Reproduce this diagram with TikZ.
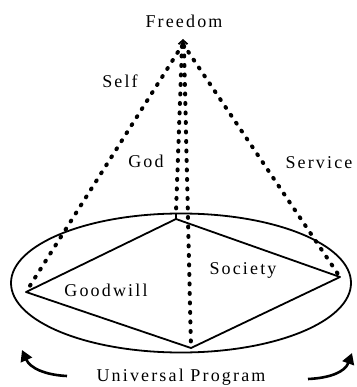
\documentclass[tikz,border=0pt]{standalone}
\usepackage{fontspec}
\setmainfont{Liberation Serif}[LetterSpace=12]
\usetikzlibrary{arrows.meta,shapes.geometric}
\tikzset{
  lbl/.style={font=\fontsize{18}{20}\selectfont, inner sep=0pt},
  dots/.style={line width=4pt, line cap=round, dash pattern=on 1pt off 8.5pt},
  solid line/.style={line width=1.8pt},
  curved arrow/.style={line width=2.6pt, -{Triangle[length=11pt,width=12pt]}}
}
\begin{document}
\begin{tikzpicture}[x=1pt,y=-1pt]
\useasboundingbox (0,0) rectangle (356,387);
% key points
\coordinate (apex) at (183,44);
\coordinate (apexL) at (182,46);
\coordinate (apexR) at (184,46);
\coordinate (top) at (176,219);
\coordinate (topL) at (176,212);
\coordinate (left) at (26,292);
\coordinate (right) at (340,277);
\coordinate (bottom) at (191,348);
% ellipse
\node[draw, solid line, ellipse, minimum width=340pt, minimum height=139pt, inner sep=0pt] (ell) at (181,283) {};
% the tick from ellipse top to diamond top
\draw[solid line] (176,214) -- (top);
% diamond
\draw[solid line, line join=round] (top) -- (right) -- (bottom) -- (left) -- cycle;
% dotted lines
\draw[dots] (apex) -- (left);
\draw[dots] (apex) -- (right);
\draw[dots] (apexL) -- (topL);
\draw[dots] (apexR) -- (bottom);
% arrow tip at apex
\draw[line width=1.8pt, -{Straight Barb[length=4pt,width=9pt]}] (183,48) -- (183,39);
% labels
\node[lbl] (freedom) at (184,21) {Freedom};
\node[lbl] (self) at (120,81) {Self};
\node[lbl] (god) at (146,161) {God};
\node[lbl] (service) at (319,163) {Service};
\node[lbl] (society) at (243,270) {Society};
\node[lbl] (goodwill) at (106,290) {Goodwill};
\node[lbl] (univ) at (181,377) {Universal Program};
% curved arrows
\coordinate (lt) at (67,376);
\coordinate (lh) at (22,350);
\coordinate (rt) at (308,379);
\coordinate (rh) at (352,353);
\draw[curved arrow] (lt) .. controls (45,375) and (30,368) .. (lh);
\draw[curved arrow] (rt) .. controls (330,378) and (345,372) .. (rh);
\end{tikzpicture}
\end{document}
